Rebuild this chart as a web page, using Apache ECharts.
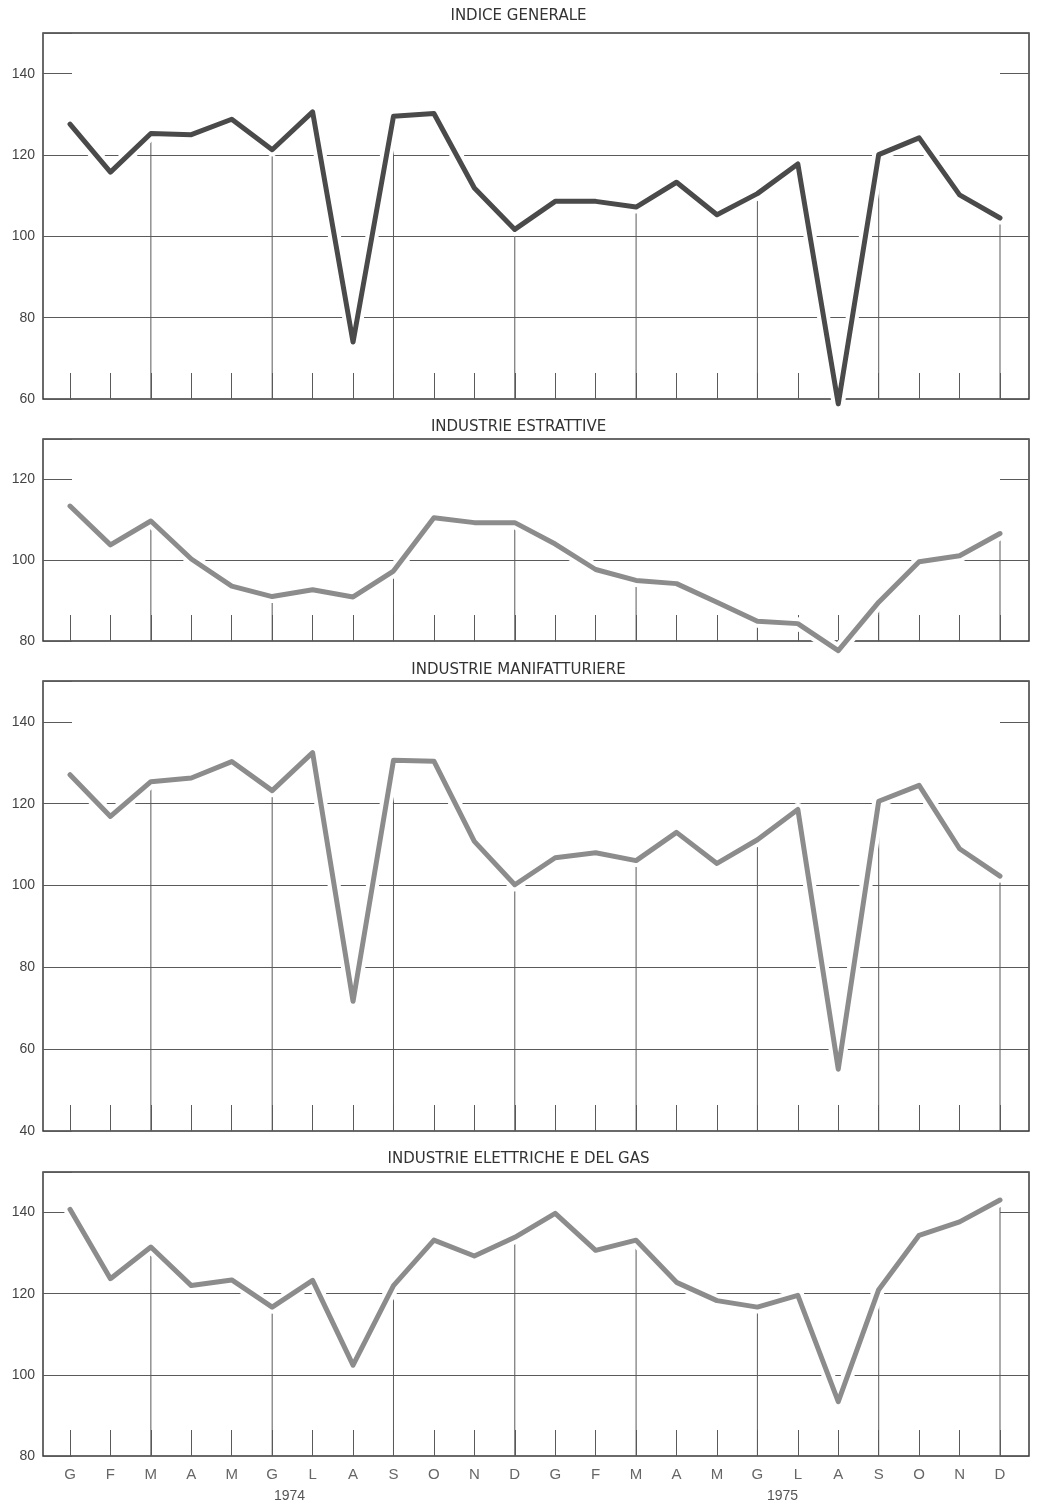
<!DOCTYPE html>
<html><head><meta charset="utf-8">
<script src="https://cdn.jsdelivr.net/npm/echarts@6/dist/echarts.min.js"></script>
<style>html,body{margin:0;padding:0;background:#fff}#c{width:1037px;height:1509px}</style>
</head><body><div id="c"></div>
<script>
// ---- data ----
const months = ['G','F','M','A','M','G','L','A','S','O','N','D','G','F','M','A','M','G','L','A','S','O','N','D'];
const years = ['1974','1975'];
const panelTitles = ['INDICE GENERALE','INDUSTRIE ESTRATTIVE','INDUSTRIE MANIFATTURIERE','INDUSTRIE ELETTRICHE E DEL GAS'];
const indiceGenerale = [127.6,115.8,125.3,125.0,128.8,121.3,130.6,74.0,129.5,130.2,111.9,101.7,108.6,108.6,107.2,113.3,105.3,110.5,117.8,58.8,120.1,124.2,110.2,104.5];
const industrieEstrattive = [113.4,103.8,109.7,100.3,93.6,91.0,92.7,90.9,97.3,110.5,109.3,109.3,104.0,97.7,95.0,94.2,89.6,84.9,84.3,77.6,89.6,99.6,101.1,106.6];
const industrieManifatturiere = [127.1,116.9,125.4,126.3,130.3,123.2,132.5,71.7,130.6,130.4,110.8,100.2,106.8,108.0,106.1,113.0,105.4,111.2,118.6,55.1,120.6,124.5,109.0,102.3];
const industrieElettriche = [140.8,123.7,131.5,122.0,123.4,116.7,123.3,102.4,122.0,133.2,129.3,133.9,139.8,130.7,133.2,122.8,118.3,116.7,119.6,93.4,121.0,134.4,137.7,143.1];
const yMin = [60, 80, 40, 80];
const yMax = [150, 130, 150, 150];
const fullGridValues = [[80,100,120],[100],[60,80,100,120],[100,120]];

// ---- layout / style ----
const seriesValues = [indiceGenerale, industrieEstrattive, industrieManifatturiere, industrieElettriche];
const lineColors = ['#4a4a4a', '#8c8c8c', '#8c8c8c', '#8c8c8c'];
const panelTop = [33, 439, 681, 1172];
const panelHeight = [366, 202, 450, 284];
const titleTop = [9, 420, 663, 1152];
const gridColor = '#5a5a5a';

const option = { animation: false, backgroundColor: '#fff', title: [], grid: [], xAxis: [], yAxis: [], series: [] };

for (let p = 0; p < 4; p++) {
  const vals = seriesValues[p];
  option.title.push({
    text: panelTitles[p], left: 'center', top: titleTop[p], padding: 0,
    textStyle: { fontSize: 15, fontWeight: 'normal', color: '#333', fontFamily: 'DejaVu Sans' }
  });
  // frame grid
  option.grid.push({ left: 43, right: 8, top: panelTop[p], height: panelHeight[p],
    show: true, borderColor: '#3a3a3a', borderWidth: 1.5, backgroundColor: 'transparent' });
  // inner data grid
  option.grid.push({ left: 70, right: 37, top: panelTop[p], height: panelHeight[p] });

  option.xAxis.push({
    gridIndex: 2*p, type: 'category', data: years, show: p === 3,
    axisLine: { show: false }, axisTick: { show: false }, splitLine: { show: false },
    axisLabel: { margin: 33, fontSize: 14, color: '#555', fontFamily: 'Liberation Sans' }
  });
  option.xAxis.push({
    gridIndex: 2*p+1, type: 'category', data: months, boundaryGap: false,
    axisLine: { show: false },
    axisTick: { show: true, inside: true, length: 26, interval: 0, lineStyle: { color: gridColor, width: 1 } },
    axisLabel: { show: p === 3, interval: 0, margin: 11, fontSize: 15, color: '#666', fontFamily: 'Liberation Sans' },
    splitLine: { show: false }
  });

  // split line colors: full lines only at the listed values
  const ticks = [];
  for (let v = yMin[p]; v <= yMax[p]; v += 20) ticks.push(v);
  if (ticks[ticks.length-1] !== yMax[p]) ticks.push(yMax[p]);
  const splitColors = ticks.map(v => fullGridValues[p].indexOf(v) >= 0 ? gridColor : 'rgba(0,0,0,0)');

  option.yAxis.push({
    gridIndex: 2*p, type: 'value', min: yMin[p], max: yMax[p], interval: 20,
    axisLine: { show: false },
    axisTick: { show: true, inside: true, length: 29, lineStyle: { color: gridColor, width: 1 } },
    axisLabel: { formatter: v => (v % 20 === 0 ? String(v) : ''), margin: 8, fontSize: 14, color: '#444', fontFamily: 'Liberation Sans' },
    splitLine: { show: true, lineStyle: { color: splitColors, width: 1 } }
  });
  option.yAxis.push({
    gridIndex: 2*p, type: 'value', position: 'right', min: yMin[p], max: yMax[p], interval: 20,
    axisLine: { show: false },
    axisTick: { show: true, inside: true, length: 29, lineStyle: { color: gridColor, width: 1 } },
    axisLabel: { show: false }, splitLine: { show: false }
  });
  option.yAxis.push({ gridIndex: 2*p+1, type: 'value', min: yMin[p], max: yMax[p], show: false, splitLine: { show: false } });

  const xi = 2*p+1, yi = 3*p+2;
  option.series.push({
    type: 'bar', xAxisIndex: xi, yAxisIndex: yi, silent: true, clip: true,
    data: vals.map((v, i) => ((i + 1) % 3 === 0 ? v : '-')),
    barWidth: 1, itemStyle: { color: gridColor }, z: 2
  });
  option.series.push({
    type: 'line', xAxisIndex: xi, yAxisIndex: yi, silent: true, clip: false,
    data: vals, symbol: 'none', lineStyle: { color: '#ffffff', width: 13, cap: 'round', join: 'round' }, z: 3
  });
  option.series.push({
    type: 'line', xAxisIndex: xi, yAxisIndex: yi, silent: true, clip: false,
    data: vals, symbol: 'none', lineStyle: { color: lineColors[p], width: 5, cap: 'round', join: 'round' }, z: 4
  });
}

const chart = echarts.init(document.getElementById('c'), null, { renderer: 'canvas' });
chart.setOption(option);
</script>
</body></html>
